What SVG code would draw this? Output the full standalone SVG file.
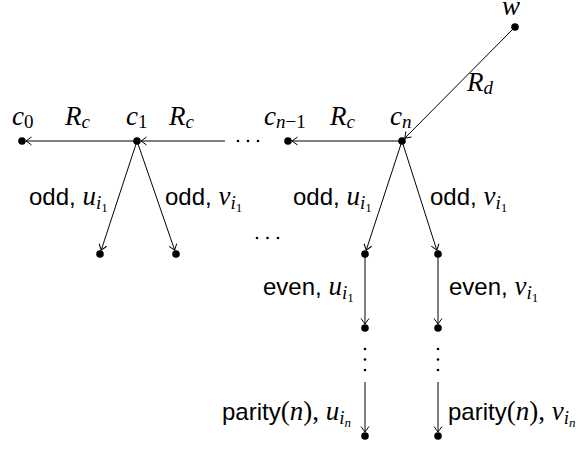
<svg xmlns="http://www.w3.org/2000/svg" width="578" height="453" viewBox="0 0 578 453">
<style>
.sf{font-family:"Liberation Sans",Arial,sans-serif;font-size:24px;fill:#000}
.mi{font-family:"Liberation Serif","Times New Roman",serif;font-style:italic;font-size:27px;fill:#000}
.up{font-family:"Liberation Serif","Times New Roman",serif;font-style:normal}
.s1{font-size:19px}
.s2{font-size:13px;font-style:normal}
.e{stroke:#000;stroke-width:1;fill:none}
.dot{fill:#000}
</style>
<defs>
<marker id="ah" viewBox="-8 -5 10 10" refX="0" refY="0" markerWidth="10" markerHeight="10" markerUnits="userSpaceOnUse" orient="auto">
<path d="M-5.5,-4 Q-1.5,-1 0,0 Q-1.5,1 -5.5,4" fill="none" stroke="#000" stroke-width="1"/>
</marker>
</defs>
<g id="edges">
<line class="e" x1="137" y1="141" x2="26" y2="141" marker-end="url(#ah)"/>
<line class="e" x1="225" y1="141" x2="141" y2="141" marker-end="url(#ah)"/>
<line class="e" x1="402" y1="141" x2="292" y2="141" marker-end="url(#ah)"/>
<line class="e" x1="515" y1="27" x2="404.8" y2="138.2" marker-end="url(#ah)"/>
<line class="e" x1="137" y1="141" x2="101.2" y2="250.2" marker-end="url(#ah)"/>
<line class="e" x1="137" y1="141" x2="174.7" y2="250.2" marker-end="url(#ah)"/>
<line class="e" x1="402" y1="141" x2="366.2" y2="250.2" marker-end="url(#ah)"/>
<line class="e" x1="402" y1="141" x2="436.8" y2="250.2" marker-end="url(#ah)"/>
<line class="e" x1="365" y1="254" x2="365" y2="324" marker-end="url(#ah)"/>
<line class="e" x1="438" y1="254" x2="438" y2="324" marker-end="url(#ah)"/>
<line class="e" x1="365" y1="382" x2="365" y2="432" marker-end="url(#ah)"/>
<line class="e" x1="438" y1="382" x2="438" y2="432" marker-end="url(#ah)"/>
</g>
<g id="ellipses">
<circle class="dot" cx="238" cy="141" r="1.3"/><circle class="dot" cx="248" cy="141" r="1.3"/><circle class="dot" cx="258" cy="141" r="1.3"/>
<circle class="dot" cx="257" cy="238" r="1.3"/><circle class="dot" cx="267.5" cy="238" r="1.3"/><circle class="dot" cx="278" cy="238" r="1.3"/>
<circle class="dot" cx="365" cy="349" r="1.3"/><circle class="dot" cx="365" cy="359.5" r="1.3"/><circle class="dot" cx="365" cy="370" r="1.3"/>
<circle class="dot" cx="438" cy="349" r="1.3"/><circle class="dot" cx="438" cy="359.5" r="1.3"/><circle class="dot" cx="438" cy="370" r="1.3"/>
</g>
<g id="w"><circle class="dot" cx="515" cy="27" r="3.8"/><text class="mi" x="502" y="15">w</text></g>
<g id="c0"><circle class="dot" cx="22" cy="141" r="3.8"/><text class="mi" x="12" y="125">c<tspan class="s1 up" dy="3">0</tspan></text></g>
<g id="c1"><circle class="dot" cx="137" cy="141" r="3.8"/><text class="mi" x="126" y="125">c<tspan class="s1 up" dy="3">1</tspan></text></g>
<g id="cn1"><circle class="dot" cx="288" cy="141" r="3.8"/><text class="mi" x="264" y="125">c<tspan class="s1" dy="3">n</tspan><tspan class="s1 up">−1</tspan></text></g>
<g id="cn"><circle class="dot" cx="402" cy="141" r="3.8"/><text class="mi" x="390" y="125">c<tspan class="s1" dy="3">n</tspan></text></g>
<g id="a1"><circle class="dot" cx="100" cy="254" r="3.8"/></g>
<g id="b1"><circle class="dot" cx="176" cy="254" r="3.8"/></g>
<g id="u1"><circle class="dot" cx="365" cy="254" r="3.8"/></g>
<g id="v1"><circle class="dot" cx="438" cy="254" r="3.8"/></g>
<g id="u2"><circle class="dot" cx="365" cy="328" r="3.8"/></g>
<g id="v2"><circle class="dot" cx="438" cy="328" r="3.8"/></g>
<g id="un"><circle class="dot" cx="365" cy="436" r="3.8"/></g>
<g id="vn"><circle class="dot" cx="438" cy="436" r="3.8"/></g>
<g id="labels">
<text class="mi" x="65" y="125">R<tspan class="s1" dy="3">c</tspan></text>
<text class="mi" x="169" y="125">R<tspan class="s1" dy="3">c</tspan></text>
<text class="mi" x="330" y="125">R<tspan class="s1" dy="3">c</tspan></text>
<text class="mi" x="467" y="91">R<tspan class="s1" dy="3">d</tspan></text>
<text class="sf" x="29" y="205">odd,<tspan class="mi"> u</tspan><tspan class="mi s1" dy="4">i</tspan><tspan class="mi s2" dy="3">1</tspan></text>
<text class="sf" x="165" y="205">odd,<tspan class="mi"> v</tspan><tspan class="mi s1" dy="4">i</tspan><tspan class="mi s2" dy="3">1</tspan></text>
<text class="sf" x="293" y="205">odd,<tspan class="mi"> u</tspan><tspan class="mi s1" dy="4">i</tspan><tspan class="mi s2" dy="3">1</tspan></text>
<text class="sf" x="430" y="205">odd,<tspan class="mi"> v</tspan><tspan class="mi s1" dy="4">i</tspan><tspan class="mi s2" dy="3">1</tspan></text>
<text class="sf" x="263" y="295">even,<tspan class="mi"> u</tspan><tspan class="mi s1" dy="4">i</tspan><tspan class="mi s2" dy="3">1</tspan></text>
<text class="sf" x="449" y="295">even,<tspan class="mi"> v</tspan><tspan class="mi s1" dy="4">i</tspan><tspan class="mi s2" dy="3">1</tspan></text>
<text class="sf" x="222" y="420">parity<tspan class="mi up">(</tspan><tspan class="mi">n</tspan><tspan class="mi up">),</tspan><tspan class="mi"> u</tspan><tspan class="mi s1" dy="4">i</tspan><tspan class="mi s2" dy="3" style="font-style:italic">n</tspan></text>
<text class="sf" x="448" y="420">parity<tspan class="mi up">(</tspan><tspan class="mi">n</tspan><tspan class="mi up">),</tspan><tspan class="mi"> v</tspan><tspan class="mi s1" dy="4">i</tspan><tspan class="mi s2" dy="3" style="font-style:italic">n</tspan></text>
</g>
</svg>
